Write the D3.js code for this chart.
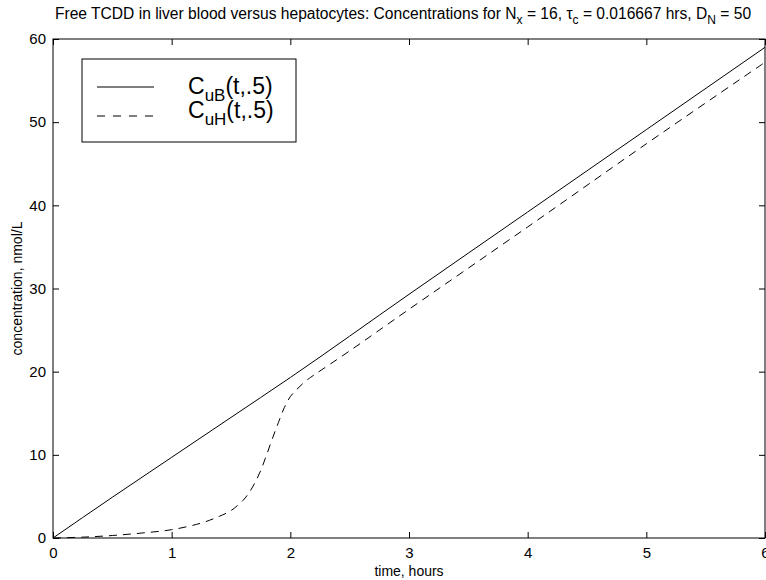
<!DOCTYPE html>
<html>
<head>
<meta charset="utf-8">
<script src="https://cdn.jsdelivr.net/npm/d3@7"></script>
<style>
  body { margin: 0; background: #fff; }
  svg { font-family: "Liberation Sans", Arial, Helvetica, sans-serif; }
</style>
</head>
<body>
<svg width="766" height="580"></svg>
<script>
// data
var timeB = [0, 0.5, 1, 1.5, 2, 3, 4, 5, 6];
var concB = [0, 4.9, 9.7, 14.5, 19.3, 29.3, 39.2, 49.1, 59.0];

var timeH = [0, 0.25, 0.5, 0.75, 1.0, 1.25, 1.4, 1.5, 1.6, 1.65, 1.7, 1.75, 1.8, 1.85, 1.9, 1.95, 2.0, 2.05, 2.1, 2.15, 2.2, 2.5, 3, 4, 5, 6];
var concH = [0, 0.1, 0.3, 0.6, 1.0, 1.8, 2.6, 3.3, 4.5, 5.4, 6.6, 8.1, 10.0, 12.0, 13.9, 15.7, 17.0, 17.8, 18.5, 19.1, 19.6, 22.5, 27.5, 37.4, 47.4, 57.2];

var xTicks = [0, 1, 2, 3, 4, 5, 6];
var yTicks = [0, 10, 20, 30, 40, 50, 60];

var svg = d3.select("svg"),
    pLeft = 53, pRight = 765, pTop = 39, pBottom = 538;

var x = d3.scaleLinear().domain([0, 6]).range([pLeft, pRight]);
var y = d3.scaleLinear().domain([0, 60]).range([pBottom, pTop]);
var fmt = d3.format("d");

// axes, matlab style: ticks inward, box all round
svg.append("g")
    .attr("transform", "translate(0," + pBottom + ")")
    .call(d3.axisBottom(x).tickValues(xTicks).tickFormat(fmt).tickSizeInner(-6).tickSizeOuter(0).tickPadding(9))
    .call(g => g.select(".domain").remove());
svg.append("g")
    .attr("transform", "translate(0," + pTop + ")")
    .call(d3.axisTop(x).tickValues(xTicks).tickSizeInner(-6).tickSizeOuter(0).tickFormat(""))
    .call(g => g.select(".domain").remove());
svg.append("g")
    .attr("transform", "translate(" + pLeft + ",0)")
    .call(d3.axisLeft(y).tickValues(yTicks).tickFormat(fmt).tickSizeInner(-6).tickSizeOuter(0).tickPadding(7))
    .call(g => g.select(".domain").remove());
svg.append("g")
    .attr("transform", "translate(" + pRight + ",0)")
    .call(d3.axisRight(y).tickValues(yTicks).tickSizeInner(-6).tickSizeOuter(0).tickFormat(""))
    .call(g => g.select(".domain").remove());

svg.selectAll(".tick text").attr("font-size", 15).attr("fill", "#000")
    .attr("font-family", "Liberation Sans, Arial, sans-serif");
svg.selectAll(".tick line").attr("stroke", "#000");

svg.append("rect")
    .attr("x", pLeft).attr("y", pTop)
    .attr("width", pRight - pLeft).attr("height", pBottom - pTop)
    .attr("fill", "none").attr("stroke", "#000").attr("stroke-width", 1);

// lines
var lineB = d3.line().x(function(d, i) { return x(timeB[i]); }).y(function(d) { return y(d); }).curve(d3.curveMonotoneX);
var lineH = d3.line().x(function(d, i) { return x(timeH[i]); }).y(function(d) { return y(d); }).curve(d3.curveCatmullRom.alpha(0.5));

svg.append("path").attr("d", lineB(concB))
    .attr("fill", "none").attr("stroke", "#000").attr("stroke-width", 1);
svg.append("path").attr("d", lineH(concH))
    .attr("fill", "none").attr("stroke", "#000").attr("stroke-width", 1)
    .attr("stroke-dasharray", "8,6");

// title
var title = svg.append("text")
    .attr("x", 403).attr("y", 19)
    .attr("text-anchor", "middle").attr("font-size", 15.6);
title.append("tspan").text("Free TCDD in liver blood versus hepatocytes: Concentrations for N");
title.append("tspan").attr("dy", 5).attr("font-size", 12).text("x");
title.append("tspan").attr("dy", -5).text(" = 16, \u03c4");
title.append("tspan").attr("dy", 5).attr("font-size", 12).text("c");
title.append("tspan").attr("dy", -5).text(" = 0.016667 hrs, D");
title.append("tspan").attr("dy", 5).attr("font-size", 12).text("N");
title.append("tspan").attr("dy", -5).text(" = 50");

// axis labels
svg.append("text")
    .attr("x", (pLeft + pRight) / 2).attr("y", 576)
    .attr("text-anchor", "middle").attr("font-size", 14)
    .text("time, hours");
svg.append("text")
    .attr("transform", "translate(22," + ((pTop + pBottom) / 2) + ") rotate(-90)")
    .attr("text-anchor", "middle").attr("font-size", 14)
    .text("concentration, nmol/L");

// legend
var legend = svg.append("g");
legend.append("rect")
    .attr("x", 82).attr("y", 59).attr("width", 214).attr("height", 83)
    .attr("fill", "#fff").attr("stroke", "#000").attr("stroke-width", 1);

var names = [["uB", "none", 87, 94], ["uH", "8,8", 116, 118]];
names.forEach(function(n) {
  legend.append("line")
      .attr("x1", 97).attr("x2", 154).attr("y1", n[2]).attr("y2", n[2])
      .attr("stroke", "#000").attr("stroke-width", 1).attr("stroke-dasharray", n[1]);
  var t = legend.append("text").attr("x", 188).attr("y", n[3]).attr("font-size", 23);
  t.append("tspan").text("C");
  t.append("tspan").attr("dy", 7).attr("font-size", 17).text(n[0]);
  t.append("tspan").attr("dy", -7).text("(t,.5)");
});
</script>
</body>
</html>
